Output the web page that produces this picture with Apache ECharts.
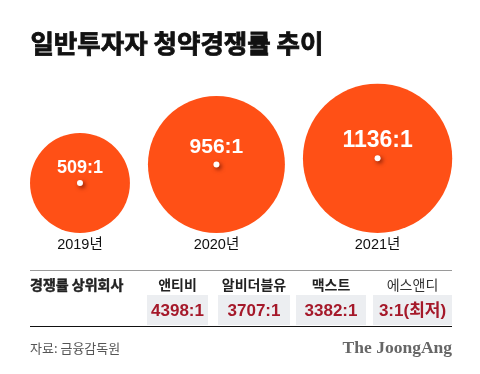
<!DOCTYPE html>
<html><head><meta charset="utf-8">
<script src="https://cdn.jsdelivr.net/npm/echarts@6/dist/echarts.min.js"></script>
<style>html,body{margin:0;padding:0;background:#fff}#c{width:480px;height:374px}</style>
</head><body><div id="c"></div>
<script>
// ---- data ----
const years = ['2019년', '2020년', '2021년'];
const ratios = [509, 956, 1136];
const ratioLabels = ['509:1', '956:1', '1136:1'];
const tableHeader = '경쟁률 상위회사';
const companies = ['앤티비', '알비더블유', '맥스트', '에스앤디'];
const companyValues = ['4398:1', '3707:1', '3382:1', '3:1(최저)'];
const titleText = '일반투자자 청약경쟁률 추이';
const sourceText = '자료: 금융감독원';
const brandText = 'The JoongAng';

// ---- layout ----
const W = 480, H = 374;
const K = 4.43;           // px diameter per sqrt(ratio)
const LEFT = 30, GAP = 18, BASE = 233;
const CJK = '"Noto Sans CJK KR", sans-serif';
const NUM = '"Liberation Sans", "Noto Sans CJK KR", sans-serif';
const ORANGE = '#FF5016';

let cursor = LEFT;
const bubbleData = ratios.map((v, i) => {
  const d = K * Math.sqrt(v);
  const cx = cursor + d / 2;
  cursor += d + GAP;
  return { value: [cx, BASE - d / 2, v], name: years[i], symbolSize: d };
});
const labelFont = [18, 21, 23];
const labelDist = [3, 4, 3];
const labelData = bubbleData.map((b, i) => ({
  value: b.value,
  label: { formatter: ratioLabels[i], fontSize: labelFont[i], distance: labelDist[i] }
}));

const colX = [177.5, 254, 331, 412.5];
const boxes = [[147, 61], [218, 72], [296, 70], [373, 79]];

const graphic = [
  { type: 'text', left: 30, top: 30, style: { text: titleText, font: 'bold 25.5px ' + CJK, fill: '#111', stroke: '#111', lineWidth: 0.8 } },
  { type: 'line', shape: { x1: 30, y1: 270.5, x2: 452, y2: 270.5 }, style: { stroke: '#9a9a9a', lineWidth: 1 } },
  { type: 'text', x: 30, y: 285, style: { text: tableHeader, font: 'bold 14px ' + CJK, fill: '#222', stroke: '#222', lineWidth: 0.4, verticalAlign: 'middle' } },
  { type: 'line', shape: { x1: 30, y1: 326.5, x2: 452, y2: 326.5 }, style: { stroke: '#111', lineWidth: 1.2 } },
  { type: 'text', x: 30, y: 348, style: { text: sourceText, font: '13px ' + CJK, fill: '#555', verticalAlign: 'middle' } },
  { type: 'text', x: 452, y: 348, style: { text: brandText, font: 'bold 17.5px "Liberation Serif", "DejaVu Serif", serif', fill: '#666', align: 'right', verticalAlign: 'middle' } }
];
companies.forEach((c, i) => {
  graphic.push({ type: 'rect', shape: { x: boxes[i][0], y: 295, width: boxes[i][1], height: 30 }, style: { fill: '#ECEEF1' } });
  graphic.push({ type: 'text', x: colX[i], y: 285, style: { text: c, font: (i === 3 ? '' : 'bold ') + '14px ' + CJK, fill: i === 3 ? '#333' : '#222', align: 'center', verticalAlign: 'middle' } });
  graphic.push({ type: 'text', x: boxes[i][0] + boxes[i][1] / 2, y: 311, style: { text: companyValues[i], font: 'bold 17px ' + NUM, fill: '#A5192A', align: 'center', verticalAlign: 'middle' } });
});

const chart = echarts.init(document.getElementById('c'), null, { renderer: 'canvas' });
chart.setOption({
  animation: false,
  backgroundColor: '#fff',
  grid: { left: 0, top: 0, right: 0, bottom: 0 },
  xAxis: { type: 'value', min: 0, max: W, show: false },
  yAxis: { type: 'value', min: 0, max: H, inverse: true, show: false },
  series: [
    {
      type: 'scatter',
      data: bubbleData,
      itemStyle: { color: ORANGE, opacity: 1 },
      label: { show: true, position: 'bottom', distance: 5, formatter: p => p.name, color: '#111', fontSize: 14.5, fontFamily: NUM },
      emphasis: { disabled: true }, silent: true
    },
    {
      type: 'scatter',
      data: bubbleData.map(b => ({ value: b.value })),
      symbolSize: 6,
      itemStyle: { color: '#fff', opacity: 1, shadowColor: 'rgba(80,10,0,0.7)', shadowBlur: 4, shadowOffsetX: 2, shadowOffsetY: 2 },
      emphasis: { disabled: true }, silent: true
    },
    {
      type: 'scatter',
      data: labelData,
      symbolSize: 6,
      itemStyle: { color: 'rgba(0,0,0,0)', opacity: 1 },
      label: { show: true, position: 'top', color: '#fff', opacity: 1, fontWeight: 'bold', fontFamily: NUM, textShadowBlur: 0, textShadowColor: 'transparent' },
      emphasis: { disabled: true }, silent: true
    }
  ],
  graphic: graphic
});
</script></body></html>
